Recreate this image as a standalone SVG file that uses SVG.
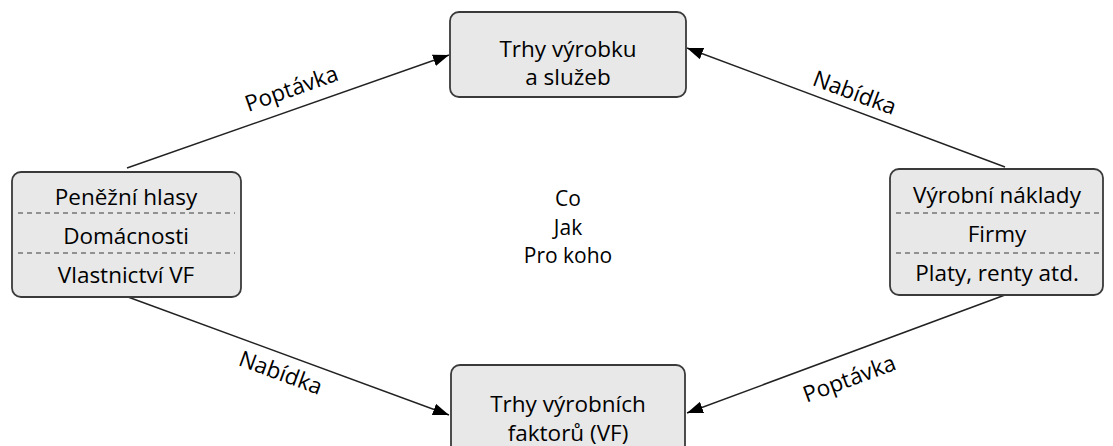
<svg xmlns="http://www.w3.org/2000/svg" width="1113" height="446" viewBox="0 0 1113 446">
<defs>
<style>
.box{fill:#e8e8e8;stroke:#3a3a3a;stroke-width:1.8}
.dash{stroke:#3a3a3a;stroke-width:1.2;stroke-dasharray:5 4;fill:none}
.t{font-family:"Open Sans","Noto Sans",sans-serif;font-size:22.5px;fill:#000;text-anchor:middle}
.c{font-size:21px}
.edge{stroke:#222;stroke-width:1.5;fill:none;marker-end:url(#ah)}
</style>
<marker id="ah" viewBox="0 0 16 12" refX="16" refY="6" markerWidth="16" markerHeight="12" markerUnits="userSpaceOnUse" orient="auto">
<path d="M0,0 L16,6 L0,12 Z" fill="#000"/>
</marker>
</defs>
<rect width="1113" height="446" fill="#fff"/>
<g id="connectors">
<line class="edge" x1="127" y1="168" x2="449" y2="55"/>
<line class="edge" x1="1005" y1="167" x2="687" y2="48"/>
<line class="edge" x1="128" y1="297" x2="449" y2="415"/>
<line class="edge" x1="1005" y1="295" x2="687" y2="413"/>
<text class="t" transform="translate(294,96) rotate(-19.3)">Poptávka</text>
<text class="t" transform="translate(852,100) rotate(20.5)">Nabídka</text>
<text class="t" transform="translate(278,380) rotate(20.2)">Nabídka</text>
<text class="t" transform="translate(852,386) rotate(-20.3)">Poptávka</text>
</g>
<g id="n-trhy-vyrobku">
<rect class="box" x="450" y="12" width="236" height="85" rx="9"/>
<text class="t" x="568" y="57">Trhy výrobku</text>
<text class="t" x="568" y="85">a služeb</text>
</g>
<g id="n-trhy-vf">
<rect class="box" x="451" y="365" width="234" height="95" rx="9"/>
<text class="t" x="568" y="412">Trhy výrobních</text>
<text class="t" x="568" y="441">faktorů (VF)</text>
</g>
<g id="n-domacnosti">
<rect class="box" x="12" y="172" width="229" height="125" rx="9"/>
<line class="dash" x1="18" y1="213" x2="235" y2="213"/>
<line class="dash" x1="18" y1="253" x2="235" y2="253"/>
<text class="t" x="126" y="205">Peněžní hlasy</text>
<text class="t" x="126" y="244">Domácnosti</text>
<text class="t" x="126" y="283">Vlastnictví VF</text>
</g>
<g id="n-firmy">
<rect class="box" x="890" y="169" width="213" height="126" rx="9"/>
<line class="dash" x1="896" y1="213" x2="1100" y2="213"/>
<line class="dash" x1="896" y1="253" x2="1100" y2="253"/>
<text class="t" x="997" y="203">Výrobní náklady</text>
<text class="t" x="997" y="242">Firmy</text>
<text class="t" x="997" y="281">Platy, renty atd.</text>
</g>
<g id="center">
<text class="t c" x="568" y="206">Co</text>
<text class="t c" x="568" y="234.5">Jak</text>
<text class="t c" x="568" y="263">Pro koho</text>
</g>
</svg>
